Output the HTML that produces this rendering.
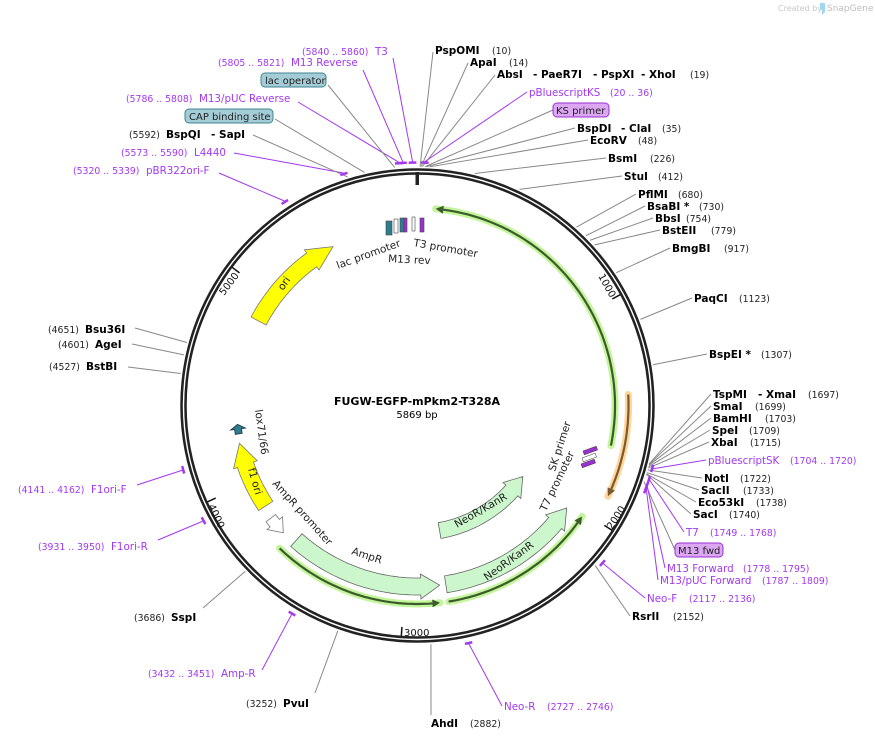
<!DOCTYPE html>
<html><head><meta charset="utf-8">
<style>
html,body{margin:0;padding:0;background:#fff;}
svg{display:block;font-family:"DejaVu Sans","Liberation Sans",sans-serif;}
.b{font-weight:bold;font-size:10.5px;fill:#000;}
.n{font-size:9.3px;fill:#222;}
.p{font-size:10.3px;fill:#a238f0;}
.pn{font-size:9.3px;fill:#a238f0;}
.f{font-size:10.5px;fill:#222;}
.bx{font-size:10px;fill:#222;}
</style></head><body>
<svg id="s" width="875" height="741" viewBox="0 0 875 741" xmlns="http://www.w3.org/2000/svg">
<g id="shapes"></g>
<text x="778" y="11" font-size="8" fill="#c8c8c8">Created by</text>
<path d="M820 3 h5 v9 l-3 3 v-5 h-2z" fill="#9fd8ef"/>
<text x="827" y="11" font-size="9" fill="#bdbdbd">SnapGene</text>

<text x="417" y="405" text-anchor="middle" font-weight="bold" font-size="11">FUGW-EGFP-mPkm2-T328A</text>
<text x="417" y="418" text-anchor="middle" font-size="10">5869 bp</text>

<text x="302" y="55" class="pn">(5840 .. 5860)</text><text x="375" y="55" class="p">T3</text>
<text x="218" y="66" class="pn">(5805 .. 5821)</text><text x="291" y="66" class="p">M13 Reverse</text>
<rect x="261" y="73" width="65" height="14" rx="4" fill="#a3ccd6" stroke="#3f8593"/>
<text x="265" y="84" class="bx">lac operator</text>
<text x="126" y="102" class="pn">(5786 .. 5808)</text><text x="199" y="102" class="p">M13/pUC Reverse</text>
<rect x="185" y="109" width="88" height="14" rx="4" fill="#a3ccd6" stroke="#3f8593"/>
<text x="189" y="120" class="bx">CAP binding site</text>
<text x="129" y="138" class="n">(5592)</text><text x="166" y="138" class="b">BspQI</text><text x="211" y="138" class="b">- SapI</text>
<text x="121" y="156" class="pn">(5573 .. 5590)</text><text x="194" y="156" class="p">L4440</text>
<text x="73" y="174" class="pn">(5320 .. 5339)</text><text x="146" y="174" class="p">pBR322ori-F</text>

<text x="435" y="54" class="b">PspOMI</text><text x="492" y="54" class="n">(10)</text>
<text x="470" y="66" class="b">ApaI</text><text x="509" y="66" class="n">(14)</text>
<text x="497" y="78" class="b">AbsI</text><text x="533" y="78" class="b">- PaeR7I</text><text x="593" y="78" class="b">- PspXI</text><text x="641" y="78" class="b">- XhoI</text><text x="690" y="78" class="n">(19)</text>
<text x="529" y="96" class="p">pBluescriptKS</text><text x="610" y="96" class="pn">(20 .. 36)</text>
<rect x="553" y="103" width="56" height="14" rx="4" fill="#dca6f2" stroke="#9a30d0"/>
<text x="556" y="114" class="bx">KS primer</text>
<text x="577" y="132" class="b">BspDI</text><text x="621" y="132" class="b">- ClaI</text><text x="662" y="132" class="n">(35)</text>
<text x="590" y="144" class="b">EcoRV</text><text x="638" y="144" class="n">(48)</text>
<text x="608" y="162" class="b">BsmI</text><text x="650" y="162" class="n">(226)</text>
<text x="624" y="180" class="b">StuI</text><text x="658" y="180" class="n">(412)</text>
<text x="638" y="198" class="b">PflMI</text><text x="678" y="198" class="n">(680)</text>
<text x="647" y="210" class="b">BsaBI *</text><text x="699" y="210" class="n">(730)</text>
<text x="655" y="222" class="b">BbsI</text><text x="686" y="222" class="n">(754)</text>
<text x="662" y="234" class="b">BstEII</text><text x="711" y="234" class="n">(779)</text>
<text x="672" y="252" class="b">BmgBI</text><text x="724" y="252" class="n">(917)</text>
<text x="694" y="302" class="b">PaqCI</text><text x="739" y="302" class="n">(1123)</text>
<text x="709" y="358" class="b">BspEI *</text><text x="761" y="358" class="n">(1307)</text>
<text x="713" y="398" class="b">TspMI</text><text x="758" y="398" class="b">- XmaI</text><text x="808" y="398" class="n">(1697)</text>
<text x="713" y="410" class="b">SmaI</text><text x="755" y="410" class="n">(1699)</text>
<text x="713" y="422" class="b">BamHI</text><text x="765" y="422" class="n">(1703)</text>
<text x="712" y="434" class="b">SpeI</text><text x="749" y="434" class="n">(1709)</text>
<text x="711" y="446" class="b">XbaI</text><text x="750" y="446" class="n">(1715)</text>
<text x="708" y="464" class="p">pBluescriptSK</text><text x="790" y="464" class="pn">(1704 .. 1720)</text>
<text x="704" y="482" class="b">NotI</text><text x="740" y="482" class="n">(1722)</text>
<text x="701" y="494" class="b">SacII</text><text x="743" y="494" class="n">(1733)</text>
<text x="698" y="506" class="b">Eco53kI</text><text x="756" y="506" class="n">(1738)</text>
<text x="693" y="518" class="b">SacI</text><text x="729" y="518" class="n">(1740)</text>
<text x="686" y="536" class="p">T7</text><text x="710" y="536" class="pn">(1749 .. 1768)</text>
<rect x="675" y="543" width="48" height="14" rx="4" fill="#dca6f2" stroke="#9a30d0"/>
<text x="678" y="554" class="bx">M13 fwd</text>
<text x="667" y="572" class="p">M13 Forward</text><text x="743" y="572" class="pn">(1778 .. 1795)</text>
<text x="660" y="584" class="p">M13/pUC Forward</text><text x="762" y="584" class="pn">(1787 .. 1809)</text>
<text x="647" y="602" class="p">Neo-F</text><text x="689" y="602" class="pn">(2117 .. 2136)</text>
<text x="632" y="620" class="b">RsrII</text><text x="673" y="620" class="n">(2152)</text>

<text x="504" y="710" class="p">Neo-R</text><text x="547" y="710" class="pn">(2727 .. 2746)</text>
<text x="431" y="727" class="b">AhdI</text><text x="470" y="727" class="n">(2882)</text>
<text x="246" y="707" class="n">(3252)</text><text x="283" y="707" class="b">PvuI</text>
<text x="148" y="677" class="pn">(3432 .. 3451)</text><text x="221" y="677" class="p">Amp-R</text>
<text x="134" y="621" class="n">(3686)</text><text x="171" y="621" class="b">SspI</text>
<text x="38" y="550" class="pn">(3931 .. 3950)</text><text x="111" y="550" class="p">F1ori-R</text>
<text x="18" y="493" class="pn">(4141 .. 4162)</text><text x="91" y="493" class="p">F1ori-F</text>
<text x="49" y="370" class="n">(4527)</text><text x="86" y="370" class="b">BstBI</text>
<text x="58" y="348" class="n">(4601)</text><text x="95" y="348" class="b">AgeI</text>
<text x="48" y="333" class="n">(4651)</text><text x="85" y="333" class="b">Bsu36I</text>

<text font-size="10" fill="#111" transform="translate(598,276) rotate(61)">1000</text>
<text font-size="10" fill="#111" transform="translate(612,530) rotate(-57)">2000</text>
<text font-size="10" fill="#111" transform="translate(404,636)">3000</text>
<text font-size="10" fill="#111" transform="translate(208,506) rotate(65)">4000</text>
<text font-size="10" fill="#111" transform="translate(224,296) rotate(-53)">5000</text>

<text class="f" transform="translate(338,269) rotate(-20)">lac promoter</text>
<text class="f" transform="translate(388,262) rotate(3)">M13 rev</text>
<text class="f" transform="translate(413,246) rotate(10)">T3 promoter</text>
<text class="f" transform="translate(283,291) rotate(-55)">ori</text>
<text class="f" transform="translate(248,469) rotate(74)">f1 ori</text>
<text class="f" transform="translate(255,410) rotate(82)">lox71/66</text>
<text class="f" transform="translate(272,484) rotate(48)">AmpR promoter</text>
<text class="f" transform="translate(351,554) rotate(18)">AmpR</text>
<text class="f" transform="translate(457,528) rotate(-30)">NeoR/KanR</text>
<text class="f" transform="translate(487,581) rotate(-36)">NeoR/KanR</text>
<text class="f" transform="translate(546,512) rotate(-64)">T7 promoter</text>
<text class="f" transform="translate(555,472) rotate(-72)">SK primer</text>
</svg>
<script>
(function(){
var cx=417.5,cy=405.5,N=5869,NS="http://www.w3.org/2000/svg";
var g=document.getElementById("shapes");
function el(t,a){var e=document.createElementNS(NS,t);for(var k in a)e.setAttribute(k,a[k]);g.appendChild(e);return e;}
function P(a,r){var t=a*Math.PI/180;return [cx+r*Math.sin(t),cy-r*Math.cos(t)];}
function A(bp){return bp/N*360;}
function arcPts(a1,a2,r){var pts=[],n=Math.max(2,Math.ceil(Math.abs(a2-a1)));for(var i=0;i<=n;i++){pts.push(P(a1+(a2-a1)*i/n,r));}return pts;}
function pl(pts){return pts.map(function(p){return p[0].toFixed(1)+","+p[1].toFixed(1);}).join(" ");}
function arrow(r,w,a1,a2,head,fill,stroke,hw){
 hw=hw||4;var d=a2>a1?1:-1,ab=a2-d*head;
 var pts=arcPts(a1,ab,r+w/2);pts.push(P(ab,r+w/2+hw));pts.push(P(a2,r));pts.push(P(ab,r-w/2-hw));
 pts=pts.concat(arcPts(ab,a1,r-w/2));
 el("polygon",{points:pl(pts),fill:fill,stroke:stroke,"stroke-width":0.8});
}
function glowArc(a1,a2,r,light,dark){
 el("polyline",{points:pl(arcPts(a1,a2,r)),fill:"none",stroke:light,"stroke-width":7,"stroke-linecap":"round"});
 var d=a2>a1?1:-1,ab=a2-d*2.2;
 el("polyline",{points:pl(arcPts(a1,ab,r)),fill:"none",stroke:dark,"stroke-width":2.2});
 el("polygon",{points:pl([P(ab,r+4),P(a2,r),P(ab,r-4)]),fill:dark});
}
var L=[[10,433,52,0],[14,468,63,0],[19,495,75,0],[28,527,92,1],[30,553,110,0],[35,575,128,0],[48,588,140,0],[226,606,158,0],[412,622,176,0],[680,636,194,0],[730,645,206,0],[754,653,218,0],[779,660,230,0],[917,670,248,0],[1123,692,298,0],[1307,707,354,0],[1697,711,394,0],[1699,711,406,0],[1703,711,418,0],[1709,710,430,0],[1715,709,442,0],[1712,706,460,1],[1722,702,478,0],[1733,699,490,0],[1738,696,502,0],[1740,691,514,0],[1758,684,532,1],[1770,675,550,0],[1786,665,568,1],[1798,658,580,1],[2126,645,598,1],[2152,630,616,0],[2736,502,706,1],[2882,431,715,0],[3252,315,693,0],[3441,262,670,1],[3686,203,608,0],[3940,158,540,1],[4151,137,485,1],[4527,128,367,0],[4601,132,344,0],[4651,135,328,0],[5330,219,173,1],[5581,234,153,1],[5592,253,135,0],[5660,275,119,0],[5797,298,102,1],[5780,328,85,0],[5813,363,70,1],[5850,393,58,1]];
L.forEach(function(l){var p=P(A(l[0]),l[3]?244:239);el("line",{x1:l[1],y1:l[2],x2:p[0],y2:p[1],stroke:l[3]?"#a238f0":"#888","stroke-width":1});});
[[5320,5339],[5573,5590],[5786,5808],[5805,5821],[5840,5860],[20,36],[1704,1720],[1749,1768],[1778,1795],[1787,1809],[2117,2136],[2727,2746],[3432,3451],[3931,3950],[4141,4162]].forEach(function(q){
 var a1=A(q[0]),a2=A(q[1]);if(a2-a1<1.8){var m=(a1+a2)/2;a1=m-0.9;a2=m+0.9;}
 el("polyline",{points:pl(arcPts(a1,a2,243)),fill:"none",stroke:"#a238f0","stroke-width":2.5});
});
el("circle",{cx:cx,cy:cy,r:234,fill:"none",stroke:"#222","stroke-width":6.5});
el("circle",{cx:cx,cy:cy,r:234,fill:"none",stroke:"#fff","stroke-width":1.4});
el("rect",{x:415.5,y:172,width:3.5,height:13,fill:"#222"});
[1000,2000,3000,4000,5000].forEach(function(b){var a=A(b),p1=P(a,231),p2=P(a,222);el("line",{x1:p1[0],y1:p1[1],x2:p2[0],y2:p2[1],stroke:"#111","stroke-width":1.5});});
glowArc(101.7,5.3,197.5,"#c3f59a","#3d5a2c");
glowArc(87,115.5,211,"#ffd59a","#7a5a30");
glowArc(224,173.5,198.5,"#c3f59a","#3d5a2c");
glowArc(171,124,198.5,"#c3f59a","#3d5a2c");
arrow(181,17,222,173,6,"#ccf7cc","#666");
arrow(181,17,171,124.5,6,"#ccf7cc","#666");
arrow(127,16,170,124,8,"#ccf7cc","#666");
arrow(185,12,232.5,226.5,4,"#fff","#777");
arrow(182,17,236.5,258,7,"#ffff00","#777");
arrow(180,17,298,332,8,"#ffff00","#777");
arrow(181,7,261,264,1.5,"#2d7d8f","#234");
[[386,221,6,14,"#2d7d8f"],[394,219,4,14,"#fff"],[400,218,4,14,"#2d7d8f"],[404,218,3,14,"#9a30d0"],[412,217,3,14,"#fff"],[420,218,4,14,"#9a30d0"]].forEach(function(r){el("rect",{x:r[0],y:r[1],width:r[2],height:r[3],fill:r[4],stroke:"#444","stroke-width":0.6});});
[[583,451,14,4,-20],[582,458,14,4,-20],[581,464,14,4,-20]].forEach(function(r,i){var e=el("rect",{x:r[0],y:r[1],width:r[2],height:r[3],fill:i==1?"#fff":"#9a30d0",stroke:"#333","stroke-width":0.5});e.setAttribute("transform","rotate("+r[4]+" "+r[0]+" "+r[1]+")");});
})();
</script>
</body></html>
